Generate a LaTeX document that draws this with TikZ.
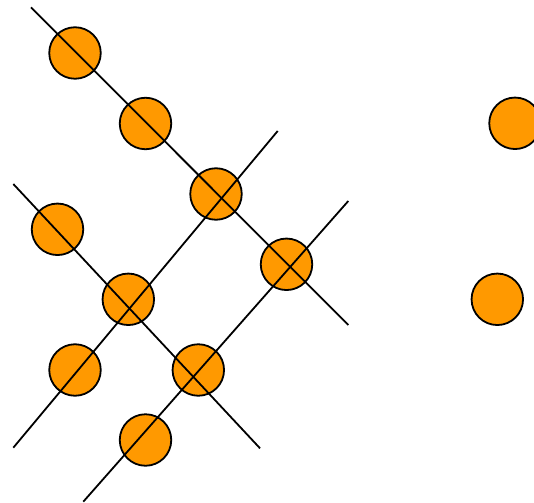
\documentclass[tikz,border=0pt]{standalone}
\usepackage{tikz}
\usetikzlibrary{positioning}
\usepackage{xcolor}
\definecolor{dotorange}{RGB}{255,153,0}

\begin{document}
\begin{tikzpicture}[
  x=1pt, y=-1pt,
  dot/.style={circle, draw, line width=1.8pt, fill=dotorange,
    minimum size=51.5pt, inner sep=0pt},
  wire/.style={line width=1.8pt}
]
\useasboundingbox (0,0) rectangle (534,502);
\node[dot] (d1) at (75,53) {};
\node[dot] (d2) at (145.5,123.5) {};
\node[dot] (d3) at (216,194) {};
\node[dot] (d4) at (57.5,229.3) {};
\node[dot] (d5) at (286.5,264.3) {};
\node[dot] (d6) at (128.3,299.3) {};
\node[dot] (d7) at (75,370) {};
\node[dot] (d8) at (198.3,370) {};
\node[dot] (d9) at (145.5,440) {};
\node[dot] (e1) at (515,123.3) {};
\node[dot] (e2) at (497.3,299.3) {};
% the four crossing lines
\coordinate (a0) at (31,7.3);
\coordinate (a1) at (348.3,325);
\coordinate (b0) at (13.3,184);
\coordinate (b1) at (260,448.3);
\coordinate (c0) at (13.3,447.7);
\coordinate (c1) at (277.7,131);
\coordinate (f0) at (83.3,501.7);
\coordinate (f1) at (348.3,201);
\draw[wire] (a0)--(a1);
\draw[wire] (b0)--(b1);
\draw[wire] (c0)--(c1);
\draw[wire] (f0)--(f1);
\end{tikzpicture}
\end{document}
